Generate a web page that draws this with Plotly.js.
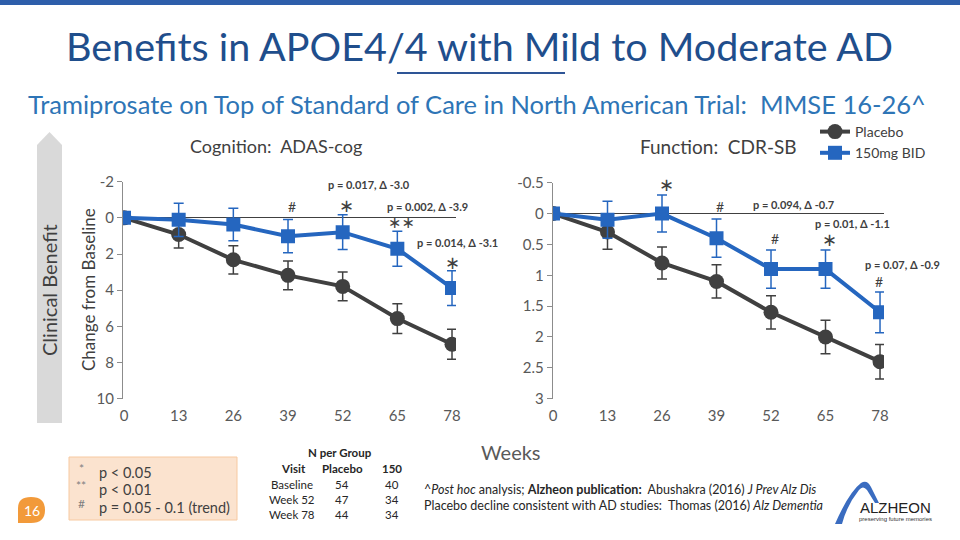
<!DOCTYPE html>
<html>
<head>
<meta charset="utf-8">
<script src="https://cdn.plot.ly/plotly-3.0.1.min.js"></script>
<style>html,body{margin:0;padding:0;background:#fff;}#chart{width:960px;height:540px;}</style>
</head>
<body>
<div id="chart"></div>
<script>
// ---------- data ----------
const weeks = [0, 13, 26, 39, 52, 65, 78];
const weekLabels = ["0", "13", "26", "39", "52", "65", "78"];

const adasPlacebo    = [0, 0.92, 2.32, 3.18, 3.79, 5.57, 6.99];
const adasPlaceboErr = [0, 0.75, 0.78, 0.80, 0.80, 0.82, 0.83];
const adas150        = [0, 0.11, 0.37, 1.01, 0.79, 1.71, 3.88];
const adas150Err     = [0, 0.92, 0.90, 0.92, 0.96, 0.97, 0.96];

const cdrPlacebo    = [0, 0.30, 0.80, 1.10, 1.60, 2.00, 2.40];
const cdrPlaceboErr = [0, 0.28, 0.26, 0.27, 0.27, 0.27, 0.28];
const cdr150        = [0, 0.10, 0.00, 0.40, 0.90, 0.90, 1.60];
const cdr150Err     = [0, 0.30, 0.30, 0.31, 0.31, 0.31, 0.33];

const adasTicks = [-2, 0, 2, 4, 6, 8, 10];
const adasTickLabels = ["-2", "0", "2", "4", "6", "8", "10"];
const cdrTicks = [-0.5, 0, 0.5, 1, 1.5, 2, 2.5, 3];
const cdrTickLabels = ["-0.5", "0", "0.5", "1", "1.5", "2", "2.5", "3"];

const seriesNames = ["Placebo", "150mg BID"];

const nVisits  = ["Baseline", "Week 52", "Week 78"];
const nPlacebo = ["54", "47", "44"];
const n150     = ["40", "34", "34"];

const sigLegendSymbols = ["*", "**", "#"];
const sigLegendTexts = ["p < 0.05", "p < 0.01", "p = 0.05 - 0.1 (trend)"];

// ---------- helpers ----------
const W = 960, H = 540;
const px = x => x / W;
const py = y => 1 - y / H;
function pathPx(cmds) {
  return cmds.map(c => {
    if (typeof c === 'string') return c;
    return px(c[0]).toFixed(5) + ',' + py(c[1]).toFixed(5);
  }).join(' ');
}

const FONT = 'Lato, "Open Sans", sans-serif';
const GRAY = '#404040';
const BLUE = '#2566BF';
const TXT = '#404040';

function series(x, y, err, name, color, symbol, xa, ya, showLeg) {
  return {
    x: x, y: y, name: name, type: 'scatter', mode: 'lines+markers',
    xaxis: xa, yaxis: ya, showlegend: showLeg,
    line: {color: color, width: 4},
    marker: {color: color, size: symbol === 'circle' ? 15 : 14, symbol: symbol},
    error_y: {type: 'data', array: err, visible: true, color: color, thickness: 1.5, width: 5},
    hoverinfo: 'skip'
  };
}

const traces = [
  series(weeks, adasPlacebo, adasPlaceboErr, seriesNames[0], GRAY, 'circle', 'x', 'y', true),
  series(weeks, adas150, adas150Err, seriesNames[1], BLUE, 'square', 'x', 'y', true),
  series(weeks, cdrPlacebo, cdrPlaceboErr, seriesNames[0], GRAY, 'circle', 'x2', 'y2', false),
  series(weeks, cdr150, cdr150Err, seriesNames[1], BLUE, 'square', 'x2', 'y2', false)
];

function xAxis(domain, range, anchor) {
  return {
    domain: domain, range: range, anchor: anchor,
    tickvals: weeks, ticktext: weekLabels, ticks: '',
    showline: false, zeroline: false, showgrid: false,
    tickfont: {family: FONT, size: 15, color: '#595959'},
    ticklabelstandoff: 6, fixedrange: true
  };
}
function yAxis(domain, range, tv, tt, anchor) {
  return {
    domain: domain, range: range, anchor: anchor,
    tickvals: tv, ticktext: tt,
    showline: true, linecolor: '#8c8c8c', linewidth: 1,
    ticks: 'outside', ticklen: 5, tickcolor: '#8c8c8c',
    zeroline: true, zerolinecolor: '#404040', zerolinewidth: 1,
    showgrid: false,
    tickfont: {family: FONT, size: 15, color: '#595959'},
    fixedrange: true
  };
}

const annotations = [];
function ann(text, x, y, opts) {
  annotations.push(Object.assign({
    text: text, x: px(x), y: py(y), xref: 'paper', yref: 'paper',
    showarrow: false, xanchor: 'center', yanchor: 'middle',
    font: {family: FONT, size: 12, color: TXT}
  }, opts || {}));
}
const STAR = {family: 'DejaVu Sans', size: 18, color: TXT};

// titles
ann('Benefits in APOE4/4 with Mild to Moderate AD', 479, 45, {font: {family: FONT, size: 39.5, color: '#1F4E8C'}});
ann('Tramiprosate on Top of Standard of Care in North American Trial:\u00a0 MMSE 16-26^', 477, 104, {font: {family: FONT, size: 25.5, color: '#2E75B6'}});
ann('Cognition:\u00a0 ADAS-cog', 276, 146, {font: {family: FONT, size: 18, color: TXT}});
ann('Function:\u00a0 CDR-SB', 718, 146, {font: {family: FONT, size: 19, color: TXT}});
ann('Clinical Benefit', 49, 290, {textangle: -90, font: {family: FONT, size: 20, color: TXT}});
ann('Change from Baseline', 88, 290, {textangle: -90, font: {family: FONT, size: 17, color: TXT}});
ann('Weeks', 511, 452, {font: {family: FONT, size: 20, color: '#595959'}});

// significance markers, left chart
const bold = s => '<b>' + s + '</b>';
ann(bold('p = 0.017, \u0394 -3.0'), 369, 185, {font: {family: FONT, size: 11, color: TXT}});
ann('#', 292, 207, {font: {family: FONT, size: 14, color: TXT}});
ann('\u2217', 346, 205, {font: STAR});
ann(bold('p = 0.002, \u0394 -3.9'), 427, 206, {font: {family: FONT, size: 11, color: TXT}});
ann('\u2217\u2217', 401, 222, {font: {family: 'DejaVu Sans', size: 16, color: TXT}});
ann(bold('p = 0.014, \u0394 -3.1'), 457, 243, {font: {family: FONT, size: 11, color: TXT}});
ann('\u2217', 452, 262, {font: STAR});
// right chart
ann('\u2217', 666, 185, {font: STAR});
ann('#', 720, 207, {font: {family: FONT, size: 14, color: TXT}});
ann(bold('p = 0.094, \u0394 -0.7'), 793, 204, {font: {family: FONT, size: 11, color: TXT}});
ann(bold('p = 0.01, \u0394 -1.1'), 852, 224, {font: {family: FONT, size: 11, color: TXT}});
ann('#', 775, 238, {font: {family: FONT, size: 14, color: TXT}});
ann('\u2217', 829, 239, {font: STAR});
ann(bold('p = 0.07, \u0394 -0.9'), 902, 264, {font: {family: FONT, size: 11, color: TXT}});
ann('#', 879, 281, {font: {family: FONT, size: 14, color: TXT}});

// significance legend box
sigLegendSymbols.forEach((s, i) => {
  ann(s, 81, 468 + i * 17.5, {xanchor: 'center', font: {family: FONT, size: 12, color: '#7f7f7f'}});
  ann(sigLegendTexts[i], 97, 472 + i * 17.5, {xanchor: 'left', font: {family: FONT, size: 14.5, color: TXT}});
});

// N per group table
ann(bold('N per Group'), 340, 452, {font: {family: FONT, size: 11.5, color: '#262626'}});
ann(bold('Visit'), 293, 468, {font: {family: FONT, size: 11.5, color: '#262626'}});
ann(bold('Placebo'), 342, 468, {font: {family: FONT, size: 11.5, color: '#262626'}});
ann(bold('150'), 392, 468, {font: {family: FONT, size: 11.5, color: '#262626'}});
nVisits.forEach((v, i) => {
  const y = 484 + i * 15;
  ann(v, 292, y, {font: {family: FONT, size: 11.5, color: '#262626'}});
  ann(nPlacebo[i], 342, y, {font: {family: FONT, size: 11.5, color: '#262626'}});
  ann(n150[i], 392, y, {font: {family: FONT, size: 11.5, color: '#262626'}});
});

// footnotes
ann('^<i>Post hoc</i> analysis; <b>Alzheon publication:</b>\u00a0 Abushakra (2016) <i>J Prev Alz Dis</i>', 422, 489, {xanchor: 'left', font: {family: FONT, size: 12.5, color: '#262626'}});
ann('Placebo decline consistent with AD studies:\u00a0 Thomas (2016) <i>Alz Dementia</i>', 422, 505, {xanchor: 'left', font: {family: FONT, size: 12.5, color: '#262626'}});

// page number
ann('16', 31.5, 510, {font: {family: FONT, size: 14, color: '#ffffff'}});

// logo text
ann('ALZHEON', 895, 507, {font: {family: '"Liberation Sans", Arial, sans-serif', size: 15, color: '#222222'}});
ann('preserving future memories', 895, 519, {font: {family: '"Liberation Sans", Arial, sans-serif', size: 6, color: '#333333'}});

const shapes = [
  // top bar
  {type: 'rect', xref: 'paper', yref: 'paper', x0: 0, x1: 1, y0: py(5), y1: 1, fillcolor: '#2E5EAA', line: {width: 0}, layer: 'below'},
  // title underline
  {type: 'line', xref: 'paper', yref: 'paper', x0: px(397), x1: px(565), y0: py(73), y1: py(73), line: {color: '#2E5596', width: 2}},
  // clinical benefit arrow
  {type: 'path', xref: 'paper', yref: 'paper', layer: 'below',
   path: pathPx(['M', [37, 145], 'L', [49.5, 132], 'L', [62, 145], 'L', [62, 423], 'L', [37, 423], 'Z']),
   fillcolor: '#D9D9D9', line: {width: 0}},
  // significance legend box
  {type: 'rect', xref: 'paper', yref: 'paper', x0: px(69), x1: px(237), y0: py(520), y1: py(457),
   fillcolor: '#FBE3CF', line: {color: '#F7C9A0', width: 1}, layer: 'below'},
  // page badge
  {type: 'path', xref: 'paper', yref: 'paper', layer: 'below',
   path: pathPx(['M', [18, 523], 'L', [18, 508], 'Q', [18, 497], [31, 497], 'Q', [45, 497], [45, 510], 'Q', [45, 523], [31, 523], 'Z']),
   fillcolor: '#F29A3A', line: {width: 0}},
  // logo swoosh
  {type: 'path', xref: 'paper', yref: 'paper', layer: 'below',
   path: pathPx(['M', [835, 524], 'Q', [849, 492], [861, 483], 'Q', [867, 479], [871, 487], 'L', [879, 503], 'L', [875, 503],
                 'L', [867, 490], 'Q', [863, 485], [859, 490], 'Q', [847, 505], [842, 524], 'Z']),
   fillcolor: '#3A6CC0', line: {width: 0}}
];

const layout = {
  width: W, height: H, autosize: false,
  margin: {l: 0, r: 0, t: 0, b: 0},
  paper_bgcolor: '#ffffff', plot_bgcolor: 'rgba(0,0,0,0)',
  font: {family: FONT, color: TXT},
  showlegend: true,
  legend: {x: px(815), y: py(116), xanchor: 'left', yanchor: 'top', bgcolor: 'rgba(0,0,0,0)',
           font: {family: FONT, size: 14, color: TXT}, itemwidth: 30, tracegroupgap: 0},
  xaxis: xAxis([px(123), px(456)], [-0.24, 78.95], 'y'),
  yaxis: yAxis([py(398.7), py(181.7)], [10, -2], adasTicks, adasTickLabels, 'x'),
  xaxis2: xAxis([px(552.7), px(884)], [-0.07, 78.95], 'y2'),
  yaxis2: yAxis([py(398.7), py(182.7)], [3, -0.5], cdrTicks, cdrTickLabels, 'x2'),
  annotations: annotations,
  shapes: shapes
};

Plotly.newPlot('chart', traces, layout, {staticPlot: true, displayModeBar: false});
</script>
</body>
</html>
